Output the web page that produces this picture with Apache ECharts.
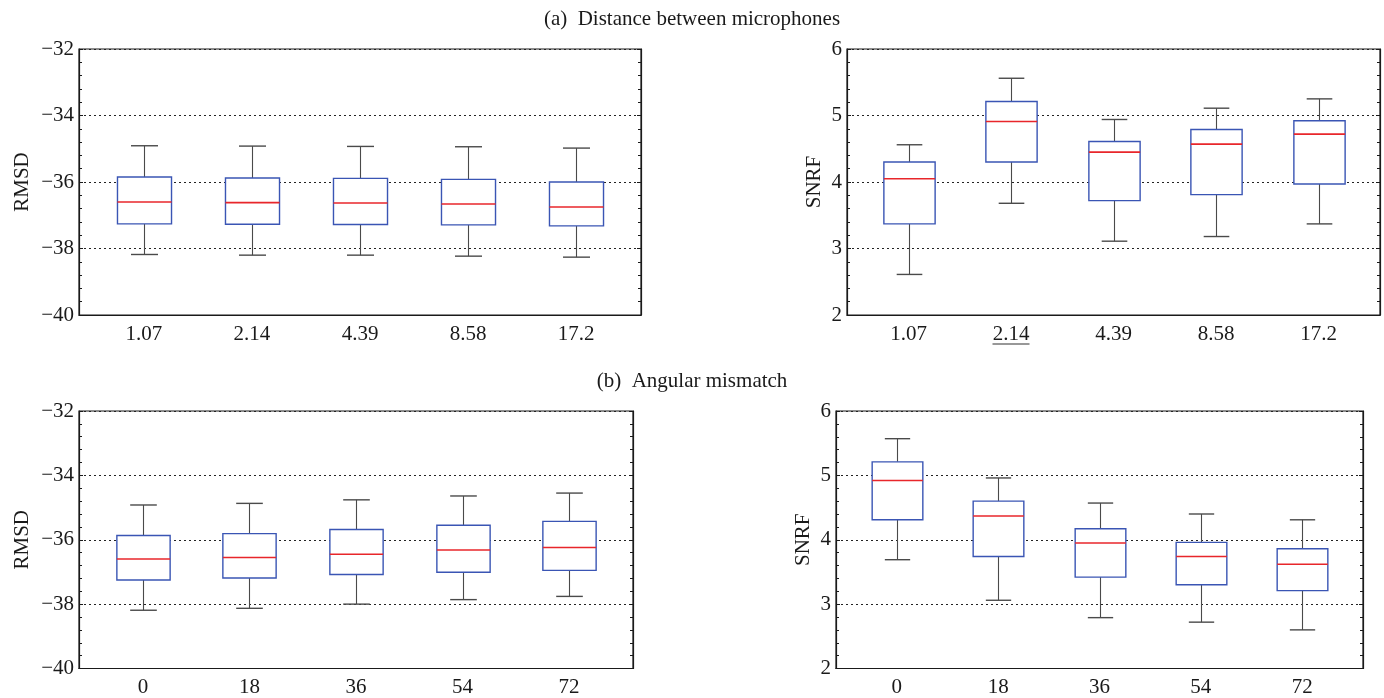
<!DOCTYPE html>
<html>
<head>
<meta charset="utf-8">
<script src="https://cdn.jsdelivr.net/npm/echarts@6/dist/echarts.min.js"></script>
<style>
  html, body { margin: 0; padding: 0; background: #fff; }
  #chart { width: 1384px; height: 698px; }
</style>
</head>
<body>
<div id="chart"></div>
<script>
// Tick labels along the bottom of each panel
const distanceLabels = ['1.07', '2.14', '4.39', '8.58', '17.2'];
const angleLabels = ['0', '18', '36', '54', '72'];

// Each box: [lower whisker, Q1, median, Q3, upper whisker]
const rmsdDistance = [
  [-38.18, -37.26, -36.60, -35.85, -34.91],
  [-38.20, -37.27, -36.62, -35.88, -34.92],
  [-38.20, -37.28, -36.63, -35.89, -34.93],
  [-38.23, -37.29, -36.66, -35.92, -34.94],
  [-38.26, -37.32, -36.75, -36.00, -34.98]
];
const snrfDistance = [
  [2.61, 3.37, 4.05, 4.30, 4.56],
  [3.68, 4.30, 4.91, 5.21, 5.56],
  [3.11, 3.72, 4.45, 4.61, 4.94],
  [3.18, 3.81, 4.57, 4.79, 5.11],
  [3.37, 3.97, 4.72, 4.92, 5.25]
];
const rmsdAngle = [
  [-38.19, -37.25, -36.60, -35.87, -34.92],
  [-38.13, -37.19, -36.55, -35.81, -34.87],
  [-38.00, -37.08, -36.45, -35.68, -34.76],
  [-37.86, -37.01, -36.32, -35.55, -34.64],
  [-37.76, -36.95, -36.24, -35.43, -34.55]
];
const snrfAngle = [
  [3.69, 4.31, 4.92, 5.21, 5.57],
  [3.06, 3.74, 4.37, 4.60, 4.96],
  [2.79, 3.42, 3.95, 4.17, 4.57],
  [2.72, 3.30, 3.74, 3.96, 4.40],
  [2.60, 3.21, 3.62, 3.86, 4.31]
];

// Category highlighted with an underline
const highlighted = '2.14';

const FONT = 'Liberation Serif';
const INK = '#1a1a1a';

const chart = echarts.init(document.getElementById('chart'), null, { renderer: 'canvas' });

const panels = [
  { grid: { left: 79, right: 743, top: 49, height: 266 }, labels: distanceLabels, boxes: rmsdDistance, name: 'RMSD', min: -40, max: -32, step: 2, nameGap: 46 },
  { grid: { left: 847, right: 4, top: 49, height: 266 }, labels: distanceLabels, boxes: snrfDistance, name: 'SNRF', min: 2, max: 6, step: 1, nameGap: 22, underline: true },
  { grid: { left: 79, right: 751, top: 411, height: 262 }, labels: angleLabels, boxes: rmsdAngle, name: 'RMSD', min: -40, max: -32, step: 2, nameGap: 46 },
  { grid: { left: 836, right: 21, top: 411, height: 262 }, labels: angleLabels, boxes: snrfAngle, name: 'SNRF', min: 2, max: 6, step: 1, nameGap: 22 }
];

function fmtNum(v) {
  return v < 0 ? '\u2212' + Math.abs(v) : String(v);
}

// Box-and-whisker glyph drawn through the axis scales
function renderBox(params, api) {
  const x = api.value(0);
  const lo = api.coord([x, api.value(1)]);
  const q1 = api.coord([x, api.value(2)]);
  const md = api.coord([x, api.value(3)]);
  const q3 = api.coord([x, api.value(4)]);
  const hi = api.coord([x, api.value(5)]);
  const unit = api.size([1, 0])[0];
  const hw = unit * 0.25;
  const cw = unit * 0.125;
  const cx = Math.round(lo[0]) + 0.5;
  const whisker = { stroke: '#4a4a4a', lineWidth: 1.1 };
  return {
    type: 'group',
    children: [
      { type: 'line', shape: { x1: cx, y1: lo[1], x2: cx, y2: q1[1] }, style: whisker },
      { type: 'line', shape: { x1: cx, y1: q3[1], x2: cx, y2: hi[1] }, style: whisker },
      { type: 'line', shape: { x1: cx - cw, y1: lo[1], x2: cx + cw, y2: lo[1] }, style: { stroke: '#4a4a4a', lineWidth: 1.4 } },
      { type: 'line', shape: { x1: cx - cw, y1: hi[1], x2: cx + cw, y2: hi[1] }, style: { stroke: '#4a4a4a', lineWidth: 1.4 } },
      { type: 'rect', shape: { x: cx - hw, y: q3[1], width: hw * 2, height: q1[1] - q3[1] }, style: { fill: '#ffffff', stroke: '#3a55b4', lineWidth: 1.4 } },
      { type: 'line', shape: { x1: cx - hw, y1: md[1], x2: cx + hw, y2: md[1] }, style: { stroke: '#e8262b', lineWidth: 1.6 } }
    ]
  };
}

const grid = [], xAxis = [], yAxis = [], series = [];

panels.forEach(function (p, i) {
  grid.push(Object.assign({ show: true, borderColor: INK, borderWidth: 1.2, backgroundColor: '#fff' }, p.grid));

  xAxis.push({
    type: 'value', gridIndex: i, min: 0.4, max: 5.6,
    axisLine: { show: true, lineStyle: { color: INK, width: 1.2 } },
    axisTick: { show: false },
    splitLine: { show: false },
    axisLabel: {
      customValues: p.labels.map(function (_, k) { return k + 1; }),
      margin: 10,
      color: INK, fontFamily: FONT, fontSize: 21,
      formatter: function (v) {
        const lab = p.labels[Math.round(v) - 1];
        if (p.underline && lab === highlighted) {
          return '{t|' + lab + '}\n{u|\u00a0}';
        }
        return '{t|' + lab + '}';
      },
      rich: {
        t: { fontFamily: FONT, fontSize: 21, color: INK, lineHeight: 18 },
        u: { width: 37, height: 1, lineHeight: 2, fontSize: 1, backgroundColor: '#333' }
      }
    }
  });

  const yCommon = {
    type: 'value', gridIndex: i, min: p.min, max: p.max, interval: p.step,
    axisLine: { show: true, lineStyle: { color: INK, width: 1.2 } },
    axisTick: { show: true, inside: true, length: 4, lineStyle: { color: INK } },
    minorTick: { show: true, splitNumber: 5, length: 3, lineStyle: { color: INK } }
  };

  yAxis.push(Object.assign({}, yCommon, {
    position: 'left',
    name: p.name, nameLocation: 'middle', nameGap: p.nameGap, nameRotate: 90,
    nameTextStyle: { fontFamily: FONT, fontSize: 21, color: INK },
    axisLabel: { margin: 5, color: INK, fontFamily: FONT, fontSize: 21, formatter: fmtNum },
    splitLine: { show: true, lineStyle: { color: '#222', type: [2, 3], width: 1 } }
  }));
  yAxis.push(Object.assign({}, yCommon, {
    position: 'right',
    axisLabel: { show: false },
    splitLine: { show: false }
  }));

  series.push({
    type: 'custom', xAxisIndex: i, yAxisIndex: i * 2,
    renderItem: renderBox,
    encode: { x: 0, y: [1, 2, 3, 4, 5] },
    data: p.boxes.map(function (b, k) { return [k + 1].concat(b); }),
    z: 3
  });
});

chart.setOption({
  animation: false,
  backgroundColor: '#ffffff',
  title: [
    { text: '(a)  Distance between microphones', left: 'center', top: 9, padding: 0,
      textStyle: { fontFamily: FONT, fontSize: 21, fontWeight: 'normal', color: INK } },
    { text: '(b)  Angular mismatch', left: 'center', top: 371, padding: 0,
      textStyle: { fontFamily: FONT, fontSize: 21, fontWeight: 'normal', color: INK } }
  ],
  grid: grid,
  xAxis: xAxis,
  yAxis: yAxis,
  series: series
});
</script>
</body>
</html>
